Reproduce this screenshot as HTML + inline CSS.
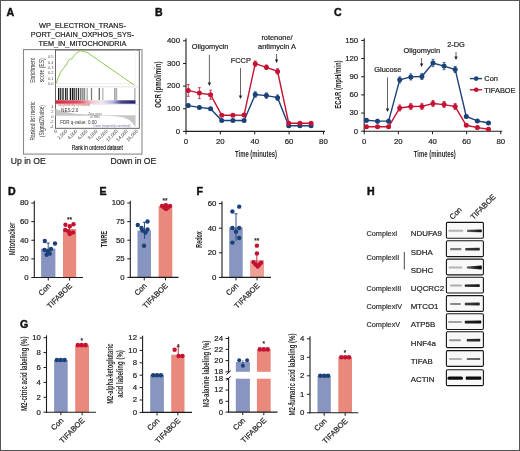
<!DOCTYPE html>
<html><head><meta charset="utf-8"><style>
html,body{margin:0;padding:0;background:#fff;width:520px;height:451px;overflow:hidden}
svg{display:block;will-change:transform}
</style></head><body>
<svg width="520" height="451" viewBox="0 0 520 451" style="font-family:'Liberation Sans', sans-serif">
<rect x="0.50" y="0.50" width="519.00" height="450.00" fill="none" stroke="#555" stroke-width="1"/>
<text x="6.50" y="16.00" font-size="10.6" font-weight="bold" fill="#111" stroke="#111" stroke-width="0.45">A</text>
<text x="155.00" y="16.00" font-size="10.6" font-weight="bold" fill="#111" stroke="#111" stroke-width="0.45">B</text>
<text x="334.00" y="16.00" font-size="10.6" font-weight="bold" fill="#111" stroke="#111" stroke-width="0.45">C</text>
<text x="8.00" y="195.30" font-size="10.6" font-weight="bold" fill="#111" stroke="#111" stroke-width="0.45">D</text>
<text x="99.50" y="195.30" font-size="10.6" font-weight="bold" fill="#111" stroke="#111" stroke-width="0.45">E</text>
<text x="196.50" y="195.30" font-size="10.6" font-weight="bold" fill="#111" stroke="#111" stroke-width="0.45">F</text>
<text x="20.00" y="328.30" font-size="10.6" font-weight="bold" fill="#111" stroke="#111" stroke-width="0.45">G</text>
<text x="367.00" y="195.30" font-size="10.6" font-weight="bold" fill="#111" stroke="#111" stroke-width="0.45">H</text>
<text x="82.50" y="27.80" font-size="7.3" text-anchor="middle" fill="#222" stroke="#222" stroke-width="0.2">WP_ELECTRON_TRANS-</text>
<text x="82.50" y="36.80" font-size="7.3" text-anchor="middle" fill="#222" stroke="#222" stroke-width="0.2">PORT_CHAIN_OXPHOS_SYS-</text>
<text x="82.50" y="45.80" font-size="7.3" text-anchor="middle" fill="#222" stroke="#222" stroke-width="0.2">TEM_IN_MITOCHONDRIA</text>
<rect x="23.50" y="49.60" width="118.50" height="104.50" fill="none" stroke="#8a8a8a" stroke-width="1.1"/>
<rect x="55.50" y="50.00" width="83.80" height="78.30" fill="none" stroke="#555" stroke-width="0.9"/>
<line x1="55.50" y1="86.80" x2="139.30" y2="86.80" stroke="#ccc" stroke-width="0.6"/>
<line x1="135.50" y1="50.00" x2="135.50" y2="128.30" stroke="#eee" stroke-width="0.5"/>
<line x1="55.50" y1="83.60" x2="135.50" y2="83.60" stroke="#ddd" stroke-width="0.5"/>
<path d="M55.5,83.6 L56.5,83 L57.5,79 L59,76 L60.5,72.5 L62,70 L63.5,68.5 L65,66 L66.5,65 L67.5,62 L69,60 L70.3,58.5 L71.5,59.3 L72.8,57.5 L74,55.5 L75.5,53.8 L77,52.8 L78.5,51.6 L80.5,50.8 L82.5,51 L85,51.8 L88,53 L134.5,85.3" fill="none" stroke="#86c043" stroke-width="0.9"/>
<text x="53.50" y="85.00" font-size="4" text-anchor="end" fill="#555">0.0</text>
<text x="53.50" y="79.65" font-size="4" text-anchor="end" fill="#555">0.1</text>
<text x="53.50" y="74.30" font-size="4" text-anchor="end" fill="#555">0.2</text>
<text x="53.50" y="68.95" font-size="4" text-anchor="end" fill="#555">0.3</text>
<text x="53.50" y="63.60" font-size="4" text-anchor="end" fill="#555">0.4</text>
<text x="53.50" y="58.25" font-size="4" text-anchor="end" fill="#555">0.5</text>
<text x="35.50" y="70.30" font-size="6.3" text-anchor="middle" fill="#333" transform="rotate(-90 35.5 70.3)" textLength="25" lengthAdjust="spacingAndGlyphs">Enrichment</text>
<text x="43.80" y="70.20" font-size="6.3" text-anchor="middle" fill="#333" transform="rotate(-90 43.8 70.2)" textLength="24" lengthAdjust="spacingAndGlyphs">score (ES)</text>
<line x1="58.70" y1="88.00" x2="58.70" y2="100.20" stroke="rgba(0,0,0,0.95)" stroke-width="1.3"/>
<line x1="60.70" y1="88.00" x2="60.70" y2="100.20" stroke="rgba(0,0,0,0.8)" stroke-width="1.3"/>
<line x1="63.00" y1="88.00" x2="63.00" y2="100.20" stroke="rgba(0,0,0,0.9)" stroke-width="1.3"/>
<line x1="65.60" y1="88.00" x2="65.60" y2="100.20" stroke="rgba(0,0,0,0.85)" stroke-width="1.3"/>
<line x1="67.30" y1="88.00" x2="67.30" y2="100.20" stroke="rgba(0,0,0,0.7)" stroke-width="1.3"/>
<line x1="70.40" y1="88.00" x2="70.40" y2="100.20" stroke="rgba(0,0,0,0.95)" stroke-width="1.3"/>
<line x1="72.50" y1="88.00" x2="72.50" y2="100.20" stroke="rgba(0,0,0,0.9)" stroke-width="1.3"/>
<line x1="74.20" y1="88.00" x2="74.20" y2="100.20" stroke="rgba(0,0,0,0.8)" stroke-width="1.3"/>
<line x1="76.30" y1="88.00" x2="76.30" y2="100.20" stroke="rgba(0,0,0,0.75)" stroke-width="1.3"/>
<line x1="78.50" y1="88.00" x2="78.50" y2="100.20" stroke="rgba(0,0,0,0.85)" stroke-width="1.3"/>
<line x1="80.80" y1="88.00" x2="80.80" y2="100.20" stroke="rgba(0,0,0,0.6)" stroke-width="1.3"/>
<line x1="82.90" y1="88.00" x2="82.90" y2="100.20" stroke="rgba(0,0,0,0.55)" stroke-width="1.3"/>
<line x1="84.60" y1="88.00" x2="84.60" y2="100.20" stroke="rgba(0,0,0,0.45)" stroke-width="1.3"/>
<line x1="87.20" y1="88.00" x2="87.20" y2="100.20" stroke="rgba(0,0,0,0.35)" stroke-width="1.3"/>
<line x1="91.50" y1="88.00" x2="91.50" y2="100.20" stroke="rgba(0,0,0,0.5)" stroke-width="1.3"/>
<line x1="99.30" y1="88.00" x2="99.30" y2="100.20" stroke="rgba(0,0,0,0.6)" stroke-width="1.3"/>
<line x1="102.80" y1="88.00" x2="102.80" y2="100.20" stroke="rgba(0,0,0,0.3)" stroke-width="1.3"/>
<line x1="114.90" y1="88.00" x2="114.90" y2="100.20" stroke="rgba(0,0,0,0.45)" stroke-width="1.3"/>
<line x1="116.60" y1="88.00" x2="116.60" y2="100.20" stroke="rgba(0,0,0,0.3)" stroke-width="1.3"/>
<line x1="134.80" y1="88.00" x2="134.80" y2="100.20" stroke="rgba(0,0,0,0.3)" stroke-width="1.3"/>
<defs><linearGradient id="gbar" x1="0" x2="1"><stop offset="0" stop-color="#d42a3c"/><stop offset="0.3" stop-color="#de5566"/><stop offset="0.45" stop-color="#f2c4cc"/><stop offset="0.58" stop-color="#ece8f2"/><stop offset="0.72" stop-color="#b4b0d8"/><stop offset="0.82" stop-color="#4a4890"/><stop offset="1" stop-color="#222070"/></linearGradient></defs>
<rect x="55.50" y="100.30" width="80.00" height="3.50" fill="url(#gbar)" stroke="none" stroke-width="1"/>
<line x1="55.50" y1="104.30" x2="139.30" y2="104.30" stroke="#ccc" stroke-width="0.5"/>
<path d="M55.5,115.6 L55.5,108.5 Q60,111.5 75,113.8 L100,115.3 L118,116.5 Q130,117.5 135.5,127 L135.5,115.6 Z" fill="#c6c6c6" stroke="none" stroke-width="1"/>
<line x1="55.50" y1="115.60" x2="135.50" y2="115.60" stroke="#bbb" stroke-width="0.4"/>
<text x="61.00" y="112.00" font-size="4.7" fill="#333">NES:2.0</text>
<text x="60.20" y="123.80" font-size="4.7" fill="#333" textLength="36.5" lengthAdjust="spacingAndGlyphs">FDR q-value: 0.00</text>
<text x="95.00" y="114.80" font-size="2.9" text-anchor="middle" fill="#666">Zero cross</text>
<text x="95.00" y="117.60" font-size="2.9" text-anchor="middle" fill="#666">at 7680</text>
<text x="58.00" y="105.60" font-size="2.9" fill="#d05050">Up (positively correlated)</text>
<text x="112.00" y="127.30" font-size="2.9" text-anchor="middle" fill="#7070b0">Down (negatively correlated)</text>
<text x="53.50" y="107.50" font-size="4" text-anchor="end" fill="#555">4</text>
<text x="53.50" y="112.50" font-size="4" text-anchor="end" fill="#555">2</text>
<text x="53.50" y="117.50" font-size="4" text-anchor="end" fill="#555">0</text>
<text x="53.50" y="122.50" font-size="4" text-anchor="end" fill="#555">-2</text>
<text x="53.50" y="127.50" font-size="4" text-anchor="end" fill="#555">-4</text>
<text x="35.30" y="121.00" font-size="6.3" text-anchor="middle" fill="#333" transform="rotate(-90 35.3 121)" textLength="39" lengthAdjust="spacingAndGlyphs">Ranked list metric</text>
<text x="44.00" y="121.00" font-size="6.3" text-anchor="middle" fill="#333" transform="rotate(-90 44 121)" textLength="32" lengthAdjust="spacingAndGlyphs">(Signal2Noise)</text>
<text x="57.50" y="131.50" font-size="4.7" text-anchor="end" fill="#333" transform="rotate(-45 57.5 131.5)">0</text>
<text x="67.60" y="131.50" font-size="4.7" text-anchor="end" fill="#333" transform="rotate(-45 67.6 131.5)">2,000</text>
<text x="77.70" y="131.50" font-size="4.7" text-anchor="end" fill="#333" transform="rotate(-45 77.7 131.5)">4,000</text>
<text x="87.80" y="131.50" font-size="4.7" text-anchor="end" fill="#333" transform="rotate(-45 87.8 131.5)">6,000</text>
<text x="97.90" y="131.50" font-size="4.7" text-anchor="end" fill="#333" transform="rotate(-45 97.9 131.5)">8,000</text>
<text x="108.00" y="131.50" font-size="4.7" text-anchor="end" fill="#333" transform="rotate(-45 108.0 131.5)">10,000</text>
<text x="118.10" y="131.50" font-size="4.7" text-anchor="end" fill="#333" transform="rotate(-45 118.1 131.5)">12,000</text>
<text x="128.20" y="131.50" font-size="4.7" text-anchor="end" fill="#333" transform="rotate(-45 128.2 131.5)">14,000</text>
<text x="138.30" y="131.50" font-size="4.7" text-anchor="end" fill="#333" transform="rotate(-45 138.3 131.5)">16,000</text>
<text x="97.30" y="149.80" font-size="6.8" text-anchor="middle" fill="#222" stroke="#222" stroke-width="0.2" textLength="51" lengthAdjust="spacingAndGlyphs">Rank in ordered dataset</text>
<text x="10.80" y="163.60" font-size="8.6" fill="#222" stroke="#222" stroke-width="0.2">Up in OE</text>
<text x="156.30" y="163.60" font-size="8.6" text-anchor="end" fill="#222" stroke="#222" stroke-width="0.2">Down in OE</text>
<line x1="186.00" y1="38.30" x2="186.00" y2="131.90" stroke="#1c1c1c" stroke-width="1.1"/>
<line x1="183.00" y1="131.40" x2="186.00" y2="131.40" stroke="#1c1c1c" stroke-width="1"/>
<text x="180.00" y="133.70" font-size="7.8" text-anchor="end" fill="#222" stroke="#222" stroke-width="0.2">0</text>
<line x1="183.00" y1="108.75" x2="186.00" y2="108.75" stroke="#1c1c1c" stroke-width="1"/>
<text x="180.00" y="111.05" font-size="7.8" text-anchor="end" fill="#222" stroke="#222" stroke-width="0.2">100</text>
<line x1="183.00" y1="86.10" x2="186.00" y2="86.10" stroke="#1c1c1c" stroke-width="1"/>
<text x="180.00" y="88.40" font-size="7.8" text-anchor="end" fill="#222" stroke="#222" stroke-width="0.2">200</text>
<line x1="183.00" y1="63.45" x2="186.00" y2="63.45" stroke="#1c1c1c" stroke-width="1"/>
<text x="180.00" y="65.75" font-size="7.8" text-anchor="end" fill="#222" stroke="#222" stroke-width="0.2">300</text>
<line x1="183.00" y1="40.80" x2="186.00" y2="40.80" stroke="#1c1c1c" stroke-width="1"/>
<text x="180.00" y="43.10" font-size="7.8" text-anchor="end" fill="#222" stroke="#222" stroke-width="0.2">400</text>
<line x1="185.50" y1="131.40" x2="324.94" y2="131.40" stroke="#1c1c1c" stroke-width="1.1"/>
<line x1="186.00" y1="131.40" x2="186.00" y2="134.40" stroke="#1c1c1c" stroke-width="1"/>
<text x="186.00" y="144.20" font-size="7.8" text-anchor="middle" fill="#222" stroke="#222" stroke-width="0.2">0</text>
<line x1="220.36" y1="131.40" x2="220.36" y2="134.40" stroke="#1c1c1c" stroke-width="1"/>
<text x="220.36" y="144.20" font-size="7.8" text-anchor="middle" fill="#222" stroke="#222" stroke-width="0.2">20</text>
<line x1="254.72" y1="131.40" x2="254.72" y2="134.40" stroke="#1c1c1c" stroke-width="1"/>
<text x="254.72" y="144.20" font-size="7.8" text-anchor="middle" fill="#222" stroke="#222" stroke-width="0.2">40</text>
<line x1="289.08" y1="131.40" x2="289.08" y2="134.40" stroke="#1c1c1c" stroke-width="1"/>
<text x="289.08" y="144.20" font-size="7.8" text-anchor="middle" fill="#222" stroke="#222" stroke-width="0.2">60</text>
<line x1="323.44" y1="131.40" x2="323.44" y2="134.40" stroke="#1c1c1c" stroke-width="1"/>
<text x="323.44" y="144.20" font-size="7.8" text-anchor="middle" fill="#222" stroke="#222" stroke-width="0.2">80</text>
<path d="M188.23,105.58 L199.40,107.39 L210.57,108.75 L221.73,120.53 L232.90,120.53 L244.07,120.53 L255.24,94.48 L266.40,95.61 L277.57,97.65 L288.74,125.74 L299.90,125.74 L311.07,125.74" fill="none" stroke="#1a4178" stroke-width="1.4"/>
<line x1="188.23" y1="104.22" x2="188.23" y2="106.94" stroke="#1a4178" stroke-width="0.8"/>
<line x1="186.83" y1="104.22" x2="189.63" y2="104.22" stroke="#1a4178" stroke-width="0.8"/>
<line x1="186.83" y1="106.94" x2="189.63" y2="106.94" stroke="#1a4178" stroke-width="0.8"/>
<circle cx="188.23" cy="105.58" r="2.5" fill="#1a4178"/>
<line x1="199.40" y1="106.26" x2="199.40" y2="108.52" stroke="#1a4178" stroke-width="0.8"/>
<line x1="198.00" y1="106.26" x2="200.80" y2="106.26" stroke="#1a4178" stroke-width="0.8"/>
<line x1="198.00" y1="108.52" x2="200.80" y2="108.52" stroke="#1a4178" stroke-width="0.8"/>
<circle cx="199.40" cy="107.39" r="2.5" fill="#1a4178"/>
<line x1="210.57" y1="107.62" x2="210.57" y2="109.88" stroke="#1a4178" stroke-width="0.8"/>
<line x1="209.17" y1="107.62" x2="211.97" y2="107.62" stroke="#1a4178" stroke-width="0.8"/>
<line x1="209.17" y1="109.88" x2="211.97" y2="109.88" stroke="#1a4178" stroke-width="0.8"/>
<circle cx="210.57" cy="108.75" r="2.5" fill="#1a4178"/>
<line x1="221.73" y1="119.85" x2="221.73" y2="121.21" stroke="#1a4178" stroke-width="0.8"/>
<line x1="220.33" y1="119.85" x2="223.13" y2="119.85" stroke="#1a4178" stroke-width="0.8"/>
<line x1="220.33" y1="121.21" x2="223.13" y2="121.21" stroke="#1a4178" stroke-width="0.8"/>
<circle cx="221.73" cy="120.53" r="2.5" fill="#1a4178"/>
<line x1="232.90" y1="119.85" x2="232.90" y2="121.21" stroke="#1a4178" stroke-width="0.8"/>
<line x1="231.50" y1="119.85" x2="234.30" y2="119.85" stroke="#1a4178" stroke-width="0.8"/>
<line x1="231.50" y1="121.21" x2="234.30" y2="121.21" stroke="#1a4178" stroke-width="0.8"/>
<circle cx="232.90" cy="120.53" r="2.5" fill="#1a4178"/>
<line x1="244.07" y1="119.85" x2="244.07" y2="121.21" stroke="#1a4178" stroke-width="0.8"/>
<line x1="242.67" y1="119.85" x2="245.47" y2="119.85" stroke="#1a4178" stroke-width="0.8"/>
<line x1="242.67" y1="121.21" x2="245.47" y2="121.21" stroke="#1a4178" stroke-width="0.8"/>
<circle cx="244.07" cy="120.53" r="2.5" fill="#1a4178"/>
<line x1="255.24" y1="91.76" x2="255.24" y2="97.20" stroke="#1a4178" stroke-width="0.8"/>
<line x1="253.84" y1="91.76" x2="256.64" y2="91.76" stroke="#1a4178" stroke-width="0.8"/>
<line x1="253.84" y1="97.20" x2="256.64" y2="97.20" stroke="#1a4178" stroke-width="0.8"/>
<circle cx="255.24" cy="94.48" r="2.5" fill="#1a4178"/>
<line x1="266.40" y1="92.89" x2="266.40" y2="98.33" stroke="#1a4178" stroke-width="0.8"/>
<line x1="265.00" y1="92.89" x2="267.80" y2="92.89" stroke="#1a4178" stroke-width="0.8"/>
<line x1="265.00" y1="98.33" x2="267.80" y2="98.33" stroke="#1a4178" stroke-width="0.8"/>
<circle cx="266.40" cy="95.61" r="2.5" fill="#1a4178"/>
<line x1="277.57" y1="94.93" x2="277.57" y2="100.37" stroke="#1a4178" stroke-width="0.8"/>
<line x1="276.17" y1="94.93" x2="278.97" y2="94.93" stroke="#1a4178" stroke-width="0.8"/>
<line x1="276.17" y1="100.37" x2="278.97" y2="100.37" stroke="#1a4178" stroke-width="0.8"/>
<circle cx="277.57" cy="97.65" r="2.5" fill="#1a4178"/>
<line x1="288.74" y1="125.28" x2="288.74" y2="126.19" stroke="#1a4178" stroke-width="0.8"/>
<line x1="287.34" y1="125.28" x2="290.14" y2="125.28" stroke="#1a4178" stroke-width="0.8"/>
<line x1="287.34" y1="126.19" x2="290.14" y2="126.19" stroke="#1a4178" stroke-width="0.8"/>
<circle cx="288.74" cy="125.74" r="2.5" fill="#1a4178"/>
<line x1="299.90" y1="125.28" x2="299.90" y2="126.19" stroke="#1a4178" stroke-width="0.8"/>
<line x1="298.50" y1="125.28" x2="301.30" y2="125.28" stroke="#1a4178" stroke-width="0.8"/>
<line x1="298.50" y1="126.19" x2="301.30" y2="126.19" stroke="#1a4178" stroke-width="0.8"/>
<circle cx="299.90" cy="125.74" r="2.5" fill="#1a4178"/>
<line x1="311.07" y1="125.28" x2="311.07" y2="126.19" stroke="#1a4178" stroke-width="0.8"/>
<line x1="309.67" y1="125.28" x2="312.47" y2="125.28" stroke="#1a4178" stroke-width="0.8"/>
<line x1="309.67" y1="126.19" x2="312.47" y2="126.19" stroke="#1a4178" stroke-width="0.8"/>
<circle cx="311.07" cy="125.74" r="2.5" fill="#1a4178"/>
<path d="M188.23,90.40 L199.40,93.12 L210.57,94.71 L221.73,115.32 L232.90,115.32 L244.07,115.09 L255.24,63.68 L266.40,67.30 L277.57,71.38 L288.74,123.25 L299.90,123.25 L311.07,123.25" fill="none" stroke="#c41232" stroke-width="1.4"/>
<line x1="188.23" y1="84.51" x2="188.23" y2="96.29" stroke="#c41232" stroke-width="0.8"/>
<line x1="186.83" y1="84.51" x2="189.63" y2="84.51" stroke="#c41232" stroke-width="0.8"/>
<line x1="186.83" y1="96.29" x2="189.63" y2="96.29" stroke="#c41232" stroke-width="0.8"/>
<circle cx="188.23" cy="90.40" r="2.5" fill="#c41232"/>
<line x1="199.40" y1="87.69" x2="199.40" y2="98.56" stroke="#c41232" stroke-width="0.8"/>
<line x1="198.00" y1="87.69" x2="200.80" y2="87.69" stroke="#c41232" stroke-width="0.8"/>
<line x1="198.00" y1="98.56" x2="200.80" y2="98.56" stroke="#c41232" stroke-width="0.8"/>
<circle cx="199.40" cy="93.12" r="2.5" fill="#c41232"/>
<line x1="210.57" y1="90.18" x2="210.57" y2="99.24" stroke="#c41232" stroke-width="0.8"/>
<line x1="209.17" y1="90.18" x2="211.97" y2="90.18" stroke="#c41232" stroke-width="0.8"/>
<line x1="209.17" y1="99.24" x2="211.97" y2="99.24" stroke="#c41232" stroke-width="0.8"/>
<circle cx="210.57" cy="94.71" r="2.5" fill="#c41232"/>
<line x1="221.73" y1="114.19" x2="221.73" y2="116.45" stroke="#c41232" stroke-width="0.8"/>
<line x1="220.33" y1="114.19" x2="223.13" y2="114.19" stroke="#c41232" stroke-width="0.8"/>
<line x1="220.33" y1="116.45" x2="223.13" y2="116.45" stroke="#c41232" stroke-width="0.8"/>
<circle cx="221.73" cy="115.32" r="2.5" fill="#c41232"/>
<line x1="232.90" y1="114.19" x2="232.90" y2="116.45" stroke="#c41232" stroke-width="0.8"/>
<line x1="231.50" y1="114.19" x2="234.30" y2="114.19" stroke="#c41232" stroke-width="0.8"/>
<line x1="231.50" y1="116.45" x2="234.30" y2="116.45" stroke="#c41232" stroke-width="0.8"/>
<circle cx="232.90" cy="115.32" r="2.5" fill="#c41232"/>
<line x1="244.07" y1="113.96" x2="244.07" y2="116.22" stroke="#c41232" stroke-width="0.8"/>
<line x1="242.67" y1="113.96" x2="245.47" y2="113.96" stroke="#c41232" stroke-width="0.8"/>
<line x1="242.67" y1="116.22" x2="245.47" y2="116.22" stroke="#c41232" stroke-width="0.8"/>
<circle cx="244.07" cy="115.09" r="2.5" fill="#c41232"/>
<line x1="255.24" y1="60.96" x2="255.24" y2="66.39" stroke="#c41232" stroke-width="0.8"/>
<line x1="253.84" y1="60.96" x2="256.64" y2="60.96" stroke="#c41232" stroke-width="0.8"/>
<line x1="253.84" y1="66.39" x2="256.64" y2="66.39" stroke="#c41232" stroke-width="0.8"/>
<circle cx="255.24" cy="63.68" r="2.5" fill="#c41232"/>
<line x1="266.40" y1="65.04" x2="266.40" y2="69.57" stroke="#c41232" stroke-width="0.8"/>
<line x1="265.00" y1="65.04" x2="267.80" y2="65.04" stroke="#c41232" stroke-width="0.8"/>
<line x1="265.00" y1="69.57" x2="267.80" y2="69.57" stroke="#c41232" stroke-width="0.8"/>
<circle cx="266.40" cy="67.30" r="2.5" fill="#c41232"/>
<line x1="277.57" y1="68.66" x2="277.57" y2="74.10" stroke="#c41232" stroke-width="0.8"/>
<line x1="276.17" y1="68.66" x2="278.97" y2="68.66" stroke="#c41232" stroke-width="0.8"/>
<line x1="276.17" y1="74.10" x2="278.97" y2="74.10" stroke="#c41232" stroke-width="0.8"/>
<circle cx="277.57" cy="71.38" r="2.5" fill="#c41232"/>
<line x1="288.74" y1="122.57" x2="288.74" y2="123.93" stroke="#c41232" stroke-width="0.8"/>
<line x1="287.34" y1="122.57" x2="290.14" y2="122.57" stroke="#c41232" stroke-width="0.8"/>
<line x1="287.34" y1="123.93" x2="290.14" y2="123.93" stroke="#c41232" stroke-width="0.8"/>
<circle cx="288.74" cy="123.25" r="2.5" fill="#c41232"/>
<line x1="299.90" y1="122.57" x2="299.90" y2="123.93" stroke="#c41232" stroke-width="0.8"/>
<line x1="298.50" y1="122.57" x2="301.30" y2="122.57" stroke="#c41232" stroke-width="0.8"/>
<line x1="298.50" y1="123.93" x2="301.30" y2="123.93" stroke="#c41232" stroke-width="0.8"/>
<circle cx="299.90" cy="123.25" r="2.5" fill="#c41232"/>
<line x1="311.07" y1="122.57" x2="311.07" y2="123.93" stroke="#c41232" stroke-width="0.8"/>
<line x1="309.67" y1="122.57" x2="312.47" y2="122.57" stroke="#c41232" stroke-width="0.8"/>
<line x1="309.67" y1="123.93" x2="312.47" y2="123.93" stroke="#c41232" stroke-width="0.8"/>
<circle cx="311.07" cy="123.25" r="2.5" fill="#c41232"/>
<text x="161.50" y="84.60" font-size="9.0" text-anchor="middle" font-weight="bold" fill="#2a2a2a" transform="rotate(-90 161.5 84.6)" textLength="46.2" lengthAdjust="spacingAndGlyphs">OCR (pmol/min)</text>
<text x="256.00" y="156.60" font-size="9.0" text-anchor="middle" font-weight="bold" fill="#2a2a2a" textLength="42" lengthAdjust="spacingAndGlyphs">Time (minutes)</text>
<text x="191.80" y="49.00" font-size="7.4" fill="#222" stroke="#222" stroke-width="0.2">Oligomycin</text>
<line x1="209.40" y1="54.80" x2="209.40" y2="83.00" stroke="#555" stroke-width="0.9"/>
<path d="M207.70000000000002,82.4 L211.1,82.4 L209.4,86 Z" fill="#222" stroke="none" stroke-width="1"/>
<text x="230.70" y="62.70" font-size="7.4" fill="#222" stroke="#222" stroke-width="0.2">FCCP</text>
<line x1="240.50" y1="68.00" x2="240.50" y2="96.00" stroke="#555" stroke-width="0.9"/>
<path d="M238.8,95.4 L242.2,95.4 L240.5,99 Z" fill="#222" stroke="none" stroke-width="1"/>
<text x="277.00" y="40.00" font-size="7.4" text-anchor="middle" fill="#222" stroke="#222" stroke-width="0.2">rotenone/</text>
<text x="277.00" y="49.40" font-size="7.4" text-anchor="middle" fill="#222" stroke="#222" stroke-width="0.2">antimycin A</text>
<line x1="276.60" y1="54.00" x2="276.60" y2="60.00" stroke="#555" stroke-width="0.9"/>
<path d="M274.90000000000003,59.4 L278.3,59.4 L276.6,63 Z" fill="#222" stroke="none" stroke-width="1"/>
<line x1="364.20" y1="38.30" x2="364.20" y2="131.70" stroke="#1c1c1c" stroke-width="1.1"/>
<line x1="361.20" y1="131.20" x2="364.20" y2="131.20" stroke="#1c1c1c" stroke-width="1"/>
<text x="358.20" y="133.50" font-size="7.8" text-anchor="end" fill="#222" stroke="#222" stroke-width="0.2">0</text>
<line x1="361.20" y1="113.04" x2="364.20" y2="113.04" stroke="#1c1c1c" stroke-width="1"/>
<text x="358.20" y="115.34" font-size="7.8" text-anchor="end" fill="#222" stroke="#222" stroke-width="0.2">30</text>
<line x1="361.20" y1="94.88" x2="364.20" y2="94.88" stroke="#1c1c1c" stroke-width="1"/>
<text x="358.20" y="97.18" font-size="7.8" text-anchor="end" fill="#222" stroke="#222" stroke-width="0.2">60</text>
<line x1="361.20" y1="76.72" x2="364.20" y2="76.72" stroke="#1c1c1c" stroke-width="1"/>
<text x="358.20" y="79.02" font-size="7.8" text-anchor="end" fill="#222" stroke="#222" stroke-width="0.2">90</text>
<line x1="361.20" y1="58.56" x2="364.20" y2="58.56" stroke="#1c1c1c" stroke-width="1"/>
<text x="358.20" y="60.86" font-size="7.8" text-anchor="end" fill="#222" stroke="#222" stroke-width="0.2">120</text>
<line x1="361.20" y1="40.41" x2="364.20" y2="40.41" stroke="#1c1c1c" stroke-width="1"/>
<text x="358.20" y="42.70" font-size="7.8" text-anchor="end" fill="#222" stroke="#222" stroke-width="0.2">150</text>
<line x1="363.70" y1="131.20" x2="502.26" y2="131.20" stroke="#1c1c1c" stroke-width="1.1"/>
<line x1="364.20" y1="131.20" x2="364.20" y2="134.20" stroke="#1c1c1c" stroke-width="1"/>
<text x="364.20" y="144.00" font-size="7.8" text-anchor="middle" fill="#222" stroke="#222" stroke-width="0.2">0</text>
<line x1="398.34" y1="131.20" x2="398.34" y2="134.20" stroke="#1c1c1c" stroke-width="1"/>
<text x="398.34" y="144.00" font-size="7.8" text-anchor="middle" fill="#222" stroke="#222" stroke-width="0.2">20</text>
<line x1="432.48" y1="131.20" x2="432.48" y2="134.20" stroke="#1c1c1c" stroke-width="1"/>
<text x="432.48" y="144.00" font-size="7.8" text-anchor="middle" fill="#222" stroke="#222" stroke-width="0.2">40</text>
<line x1="466.62" y1="131.20" x2="466.62" y2="134.20" stroke="#1c1c1c" stroke-width="1"/>
<text x="466.62" y="144.00" font-size="7.8" text-anchor="middle" fill="#222" stroke="#222" stroke-width="0.2">60</text>
<line x1="500.76" y1="131.20" x2="500.76" y2="134.20" stroke="#1c1c1c" stroke-width="1"/>
<text x="500.76" y="144.00" font-size="7.8" text-anchor="middle" fill="#222" stroke="#222" stroke-width="0.2">80</text>
<path d="M366.42,120.30 L377.51,121.15 L388.61,121.15 L399.71,79.87 L410.80,76.90 L421.90,76.48 L432.99,63.04 L444.09,66.07 L455.18,69.46 L466.28,116.49 L477.37,120.91 L488.47,122.97" fill="none" stroke="#1a4178" stroke-width="1.4"/>
<line x1="366.42" y1="118.49" x2="366.42" y2="122.12" stroke="#1a4178" stroke-width="0.8"/>
<line x1="365.02" y1="118.49" x2="367.82" y2="118.49" stroke="#1a4178" stroke-width="0.8"/>
<line x1="365.02" y1="122.12" x2="367.82" y2="122.12" stroke="#1a4178" stroke-width="0.8"/>
<circle cx="366.42" cy="120.30" r="2.5" fill="#1a4178"/>
<line x1="377.51" y1="119.34" x2="377.51" y2="122.97" stroke="#1a4178" stroke-width="0.8"/>
<line x1="376.11" y1="119.34" x2="378.91" y2="119.34" stroke="#1a4178" stroke-width="0.8"/>
<line x1="376.11" y1="122.97" x2="378.91" y2="122.97" stroke="#1a4178" stroke-width="0.8"/>
<circle cx="377.51" cy="121.15" r="2.5" fill="#1a4178"/>
<line x1="388.61" y1="119.34" x2="388.61" y2="122.97" stroke="#1a4178" stroke-width="0.8"/>
<line x1="387.21" y1="119.34" x2="390.01" y2="119.34" stroke="#1a4178" stroke-width="0.8"/>
<line x1="387.21" y1="122.97" x2="390.01" y2="122.97" stroke="#1a4178" stroke-width="0.8"/>
<circle cx="388.61" cy="121.15" r="2.5" fill="#1a4178"/>
<line x1="399.71" y1="76.84" x2="399.71" y2="82.90" stroke="#1a4178" stroke-width="0.8"/>
<line x1="398.31" y1="76.84" x2="401.11" y2="76.84" stroke="#1a4178" stroke-width="0.8"/>
<line x1="398.31" y1="82.90" x2="401.11" y2="82.90" stroke="#1a4178" stroke-width="0.8"/>
<circle cx="399.71" cy="79.87" r="2.5" fill="#1a4178"/>
<line x1="410.80" y1="73.88" x2="410.80" y2="79.93" stroke="#1a4178" stroke-width="0.8"/>
<line x1="409.40" y1="73.88" x2="412.20" y2="73.88" stroke="#1a4178" stroke-width="0.8"/>
<line x1="409.40" y1="79.93" x2="412.20" y2="79.93" stroke="#1a4178" stroke-width="0.8"/>
<circle cx="410.80" cy="76.90" r="2.5" fill="#1a4178"/>
<line x1="421.90" y1="73.45" x2="421.90" y2="79.51" stroke="#1a4178" stroke-width="0.8"/>
<line x1="420.50" y1="73.45" x2="423.30" y2="73.45" stroke="#1a4178" stroke-width="0.8"/>
<line x1="420.50" y1="79.51" x2="423.30" y2="79.51" stroke="#1a4178" stroke-width="0.8"/>
<circle cx="421.90" cy="76.48" r="2.5" fill="#1a4178"/>
<line x1="432.99" y1="59.41" x2="432.99" y2="66.68" stroke="#1a4178" stroke-width="0.8"/>
<line x1="431.59" y1="59.41" x2="434.39" y2="59.41" stroke="#1a4178" stroke-width="0.8"/>
<line x1="431.59" y1="66.68" x2="434.39" y2="66.68" stroke="#1a4178" stroke-width="0.8"/>
<circle cx="432.99" cy="63.04" r="2.5" fill="#1a4178"/>
<line x1="444.09" y1="62.44" x2="444.09" y2="69.70" stroke="#1a4178" stroke-width="0.8"/>
<line x1="442.69" y1="62.44" x2="445.49" y2="62.44" stroke="#1a4178" stroke-width="0.8"/>
<line x1="442.69" y1="69.70" x2="445.49" y2="69.70" stroke="#1a4178" stroke-width="0.8"/>
<circle cx="444.09" cy="66.07" r="2.5" fill="#1a4178"/>
<line x1="455.18" y1="66.43" x2="455.18" y2="72.49" stroke="#1a4178" stroke-width="0.8"/>
<line x1="453.78" y1="66.43" x2="456.58" y2="66.43" stroke="#1a4178" stroke-width="0.8"/>
<line x1="453.78" y1="72.49" x2="456.58" y2="72.49" stroke="#1a4178" stroke-width="0.8"/>
<circle cx="455.18" cy="69.46" r="2.5" fill="#1a4178"/>
<line x1="466.28" y1="115.28" x2="466.28" y2="117.70" stroke="#1a4178" stroke-width="0.8"/>
<line x1="464.88" y1="115.28" x2="467.68" y2="115.28" stroke="#1a4178" stroke-width="0.8"/>
<line x1="464.88" y1="117.70" x2="467.68" y2="117.70" stroke="#1a4178" stroke-width="0.8"/>
<circle cx="466.28" cy="116.49" r="2.5" fill="#1a4178"/>
<line x1="477.37" y1="119.70" x2="477.37" y2="122.12" stroke="#1a4178" stroke-width="0.8"/>
<line x1="475.97" y1="119.70" x2="478.77" y2="119.70" stroke="#1a4178" stroke-width="0.8"/>
<line x1="475.97" y1="122.12" x2="478.77" y2="122.12" stroke="#1a4178" stroke-width="0.8"/>
<circle cx="477.37" cy="120.91" r="2.5" fill="#1a4178"/>
<line x1="488.47" y1="121.76" x2="488.47" y2="124.18" stroke="#1a4178" stroke-width="0.8"/>
<line x1="487.07" y1="121.76" x2="489.87" y2="121.76" stroke="#1a4178" stroke-width="0.8"/>
<line x1="487.07" y1="124.18" x2="489.87" y2="124.18" stroke="#1a4178" stroke-width="0.8"/>
<circle cx="488.47" cy="122.97" r="2.5" fill="#1a4178"/>
<path d="M366.42,126.78 L377.51,126.78 L388.61,126.78 L399.71,107.96 L410.80,106.56 L421.90,106.38 L432.99,103.54 L444.09,104.57 L455.18,106.56 L466.28,125.27 L477.37,127.57 L488.47,129.20" fill="none" stroke="#c41232" stroke-width="1.4"/>
<line x1="366.42" y1="125.57" x2="366.42" y2="127.99" stroke="#c41232" stroke-width="0.8"/>
<line x1="365.02" y1="125.57" x2="367.82" y2="125.57" stroke="#c41232" stroke-width="0.8"/>
<line x1="365.02" y1="127.99" x2="367.82" y2="127.99" stroke="#c41232" stroke-width="0.8"/>
<circle cx="366.42" cy="126.78" r="2.5" fill="#c41232"/>
<line x1="377.51" y1="125.57" x2="377.51" y2="127.99" stroke="#c41232" stroke-width="0.8"/>
<line x1="376.11" y1="125.57" x2="378.91" y2="125.57" stroke="#c41232" stroke-width="0.8"/>
<line x1="376.11" y1="127.99" x2="378.91" y2="127.99" stroke="#c41232" stroke-width="0.8"/>
<circle cx="377.51" cy="126.78" r="2.5" fill="#c41232"/>
<line x1="388.61" y1="125.57" x2="388.61" y2="127.99" stroke="#c41232" stroke-width="0.8"/>
<line x1="387.21" y1="125.57" x2="390.01" y2="125.57" stroke="#c41232" stroke-width="0.8"/>
<line x1="387.21" y1="127.99" x2="390.01" y2="127.99" stroke="#c41232" stroke-width="0.8"/>
<circle cx="388.61" cy="126.78" r="2.5" fill="#c41232"/>
<line x1="399.71" y1="104.93" x2="399.71" y2="110.98" stroke="#c41232" stroke-width="0.8"/>
<line x1="398.31" y1="104.93" x2="401.11" y2="104.93" stroke="#c41232" stroke-width="0.8"/>
<line x1="398.31" y1="110.98" x2="401.11" y2="110.98" stroke="#c41232" stroke-width="0.8"/>
<circle cx="399.71" cy="107.96" r="2.5" fill="#c41232"/>
<line x1="410.80" y1="103.54" x2="410.80" y2="109.59" stroke="#c41232" stroke-width="0.8"/>
<line x1="409.40" y1="103.54" x2="412.20" y2="103.54" stroke="#c41232" stroke-width="0.8"/>
<line x1="409.40" y1="109.59" x2="412.20" y2="109.59" stroke="#c41232" stroke-width="0.8"/>
<circle cx="410.80" cy="106.56" r="2.5" fill="#c41232"/>
<line x1="421.90" y1="103.36" x2="421.90" y2="109.41" stroke="#c41232" stroke-width="0.8"/>
<line x1="420.50" y1="103.36" x2="423.30" y2="103.36" stroke="#c41232" stroke-width="0.8"/>
<line x1="420.50" y1="109.41" x2="423.30" y2="109.41" stroke="#c41232" stroke-width="0.8"/>
<circle cx="421.90" cy="106.38" r="2.5" fill="#c41232"/>
<line x1="432.99" y1="100.51" x2="432.99" y2="106.56" stroke="#c41232" stroke-width="0.8"/>
<line x1="431.59" y1="100.51" x2="434.39" y2="100.51" stroke="#c41232" stroke-width="0.8"/>
<line x1="431.59" y1="106.56" x2="434.39" y2="106.56" stroke="#c41232" stroke-width="0.8"/>
<circle cx="432.99" cy="103.54" r="2.5" fill="#c41232"/>
<line x1="444.09" y1="101.54" x2="444.09" y2="107.59" stroke="#c41232" stroke-width="0.8"/>
<line x1="442.69" y1="101.54" x2="445.49" y2="101.54" stroke="#c41232" stroke-width="0.8"/>
<line x1="442.69" y1="107.59" x2="445.49" y2="107.59" stroke="#c41232" stroke-width="0.8"/>
<circle cx="444.09" cy="104.57" r="2.5" fill="#c41232"/>
<line x1="455.18" y1="103.54" x2="455.18" y2="109.59" stroke="#c41232" stroke-width="0.8"/>
<line x1="453.78" y1="103.54" x2="456.58" y2="103.54" stroke="#c41232" stroke-width="0.8"/>
<line x1="453.78" y1="109.59" x2="456.58" y2="109.59" stroke="#c41232" stroke-width="0.8"/>
<circle cx="455.18" cy="106.56" r="2.5" fill="#c41232"/>
<line x1="466.28" y1="124.06" x2="466.28" y2="126.48" stroke="#c41232" stroke-width="0.8"/>
<line x1="464.88" y1="124.06" x2="467.68" y2="124.06" stroke="#c41232" stroke-width="0.8"/>
<line x1="464.88" y1="126.48" x2="467.68" y2="126.48" stroke="#c41232" stroke-width="0.8"/>
<circle cx="466.28" cy="125.27" r="2.5" fill="#c41232"/>
<line x1="477.37" y1="126.36" x2="477.37" y2="128.78" stroke="#c41232" stroke-width="0.8"/>
<line x1="475.97" y1="126.36" x2="478.77" y2="126.36" stroke="#c41232" stroke-width="0.8"/>
<line x1="475.97" y1="128.78" x2="478.77" y2="128.78" stroke="#c41232" stroke-width="0.8"/>
<circle cx="477.37" cy="127.57" r="2.5" fill="#c41232"/>
<line x1="488.47" y1="127.99" x2="488.47" y2="130.41" stroke="#c41232" stroke-width="0.8"/>
<line x1="487.07" y1="127.99" x2="489.87" y2="127.99" stroke="#c41232" stroke-width="0.8"/>
<line x1="487.07" y1="130.41" x2="489.87" y2="130.41" stroke="#c41232" stroke-width="0.8"/>
<circle cx="488.47" cy="129.20" r="2.5" fill="#c41232"/>
<text x="340.80" y="84.60" font-size="9.0" text-anchor="middle" font-weight="bold" fill="#2a2a2a" transform="rotate(-90 340.8 84.6)" textLength="48.4" lengthAdjust="spacingAndGlyphs">ECAR (mpH/min)</text>
<text x="434.80" y="156.60" font-size="9.0" text-anchor="middle" font-weight="bold" fill="#2a2a2a" textLength="42" lengthAdjust="spacingAndGlyphs">Time (minutes)</text>
<text x="387.80" y="72.00" font-size="7.4" text-anchor="middle" fill="#222" stroke="#222" stroke-width="0.2">Glucose</text>
<line x1="387.50" y1="77.40" x2="387.50" y2="109.00" stroke="#555" stroke-width="0.9"/>
<path d="M385.8,108.4 L389.2,108.4 L387.5,112 Z" fill="#222" stroke="none" stroke-width="1"/>
<text x="421.80" y="53.00" font-size="7.4" text-anchor="middle" fill="#222" stroke="#222" stroke-width="0.2">Oligomycin</text>
<line x1="421.60" y1="58.00" x2="421.60" y2="64.00" stroke="#555" stroke-width="0.9"/>
<path d="M419.90000000000003,63.4 L423.3,63.4 L421.6,67 Z" fill="#222" stroke="none" stroke-width="1"/>
<text x="456.00" y="46.50" font-size="7.4" text-anchor="middle" fill="#222" stroke="#222" stroke-width="0.2">2-DG</text>
<line x1="456.00" y1="52.00" x2="456.00" y2="57.00" stroke="#555" stroke-width="0.9"/>
<path d="M454.3,56.4 L457.7,56.4 L456,60 Z" fill="#222" stroke="none" stroke-width="1"/>
<line x1="470.00" y1="78.60" x2="482.00" y2="78.60" stroke="#1a4178" stroke-width="1.4"/>
<circle cx="476.20" cy="78.60" r="2.3" fill="#1a4178"/>
<line x1="470.00" y1="89.80" x2="482.00" y2="89.80" stroke="#c41232" stroke-width="1.4"/>
<circle cx="476.20" cy="89.80" r="2.3" fill="#c41232"/>
<text x="484.30" y="81.40" font-size="7.4" fill="#222" stroke="#222" stroke-width="0.2">Con</text>
<text x="484.30" y="92.60" font-size="7.4" fill="#222" stroke="#222" stroke-width="0.2">TIFABOE</text>
<rect x="41.10" y="248.64" width="14.30" height="28.86" fill="#8895c0" stroke="none" stroke-width="1"/>
<rect x="63.00" y="229.09" width="13.20" height="48.41" fill="#e9897b" stroke="none" stroke-width="1"/>
<line x1="34.30" y1="200.80" x2="34.30" y2="278.00" stroke="#1c1c1c" stroke-width="1.1"/>
<line x1="31.30" y1="277.50" x2="34.30" y2="277.50" stroke="#1c1c1c" stroke-width="1"/>
<text x="28.70" y="279.90" font-size="7.8" text-anchor="end" fill="#222" stroke="#222" stroke-width="0.2">0</text>
<line x1="31.30" y1="258.88" x2="34.30" y2="258.88" stroke="#1c1c1c" stroke-width="1"/>
<text x="28.70" y="261.28" font-size="7.8" text-anchor="end" fill="#222" stroke="#222" stroke-width="0.2">20</text>
<line x1="31.30" y1="240.26" x2="34.30" y2="240.26" stroke="#1c1c1c" stroke-width="1"/>
<text x="28.70" y="242.66" font-size="7.8" text-anchor="end" fill="#222" stroke="#222" stroke-width="0.2">40</text>
<line x1="31.30" y1="221.64" x2="34.30" y2="221.64" stroke="#1c1c1c" stroke-width="1"/>
<text x="28.70" y="224.04" font-size="7.8" text-anchor="end" fill="#222" stroke="#222" stroke-width="0.2">60</text>
<line x1="31.30" y1="203.02" x2="34.30" y2="203.02" stroke="#1c1c1c" stroke-width="1"/>
<text x="28.70" y="205.42" font-size="7.8" text-anchor="end" fill="#222" stroke="#222" stroke-width="0.2">80</text>
<line x1="33.80" y1="277.50" x2="83.00" y2="277.50" stroke="#1c1c1c" stroke-width="1.1"/>
<line x1="48.25" y1="277.50" x2="48.25" y2="280.50" stroke="#1c1c1c" stroke-width="1"/>
<line x1="69.60" y1="277.50" x2="69.60" y2="280.50" stroke="#1c1c1c" stroke-width="1"/>
<text x="51.25" y="286.30" font-size="7.6" text-anchor="end" fill="#222" stroke="#222" stroke-width="0.2" transform="rotate(-45 51.25 286.3)">Con</text>
<text x="72.60" y="286.30" font-size="7.6" text-anchor="end" fill="#222" stroke="#222" stroke-width="0.2" transform="rotate(-45 72.6 286.3)">TIFABOE</text>
<line x1="48.20" y1="243.05" x2="48.20" y2="254.22" stroke="#1a4178" stroke-width="0.9"/>
<line x1="46.60" y1="243.05" x2="49.80" y2="243.05" stroke="#1a4178" stroke-width="0.9"/>
<line x1="69.60" y1="225.36" x2="69.60" y2="232.81" stroke="#c41232" stroke-width="0.9"/>
<line x1="68.00" y1="225.36" x2="71.20" y2="225.36" stroke="#c41232" stroke-width="0.9"/>
<circle cx="44.80" cy="241.00" r="2.2" fill="#1a4178"/>
<circle cx="55.00" cy="243.52" r="2.2" fill="#1a4178"/>
<circle cx="44.50" cy="250.04" r="2.2" fill="#1a4178"/>
<circle cx="51.00" cy="249.01" r="2.2" fill="#1a4178"/>
<circle cx="46.60" cy="254.78" r="2.2" fill="#1a4178"/>
<circle cx="49.70" cy="253.67" r="2.2" fill="#1a4178"/>
<circle cx="48.10" cy="251.25" r="2.2" fill="#1a4178"/>
<circle cx="65.50" cy="224.81" r="2.2" fill="#c41232"/>
<circle cx="69.80" cy="226.20" r="2.2" fill="#c41232"/>
<circle cx="73.50" cy="224.25" r="2.2" fill="#c41232"/>
<circle cx="65.20" cy="230.02" r="2.2" fill="#c41232"/>
<circle cx="69.80" cy="234.02" r="2.2" fill="#c41232"/>
<circle cx="73.00" cy="232.53" r="2.2" fill="#c41232"/>
<circle cx="68.50" cy="231.51" r="2.2" fill="#c41232"/>
<text x="69.60" y="221.50" font-size="6.5" text-anchor="middle" fill="#222" stroke="#222" stroke-width="0.2">**</text>
<text x="15.20" y="238.90" font-size="9.0" text-anchor="middle" font-weight="bold" fill="#2a2a2a" transform="rotate(-90 15.2 238.9)" textLength="32.5" lengthAdjust="spacingAndGlyphs">Mitotracker</text>
<rect x="137.50" y="230.53" width="13.50" height="46.87" fill="#8895c0" stroke="none" stroke-width="1"/>
<rect x="158.60" y="205.98" width="13.70" height="71.42" fill="#e9897b" stroke="none" stroke-width="1"/>
<line x1="130.30" y1="200.80" x2="130.30" y2="277.90" stroke="#1c1c1c" stroke-width="1.1"/>
<line x1="127.30" y1="277.40" x2="130.30" y2="277.40" stroke="#1c1c1c" stroke-width="1"/>
<text x="124.70" y="279.80" font-size="7.8" text-anchor="end" fill="#222" stroke="#222" stroke-width="0.2">0</text>
<line x1="127.30" y1="258.80" x2="130.30" y2="258.80" stroke="#1c1c1c" stroke-width="1"/>
<text x="124.70" y="261.20" font-size="7.8" text-anchor="end" fill="#222" stroke="#222" stroke-width="0.2">25</text>
<line x1="127.30" y1="240.20" x2="130.30" y2="240.20" stroke="#1c1c1c" stroke-width="1"/>
<text x="124.70" y="242.60" font-size="7.8" text-anchor="end" fill="#222" stroke="#222" stroke-width="0.2">50</text>
<line x1="127.30" y1="221.60" x2="130.30" y2="221.60" stroke="#1c1c1c" stroke-width="1"/>
<text x="124.70" y="224.00" font-size="7.8" text-anchor="end" fill="#222" stroke="#222" stroke-width="0.2">75</text>
<line x1="127.30" y1="203.00" x2="130.30" y2="203.00" stroke="#1c1c1c" stroke-width="1"/>
<text x="124.70" y="205.40" font-size="7.8" text-anchor="end" fill="#222" stroke="#222" stroke-width="0.2">100</text>
<line x1="129.80" y1="277.40" x2="178.50" y2="277.40" stroke="#1c1c1c" stroke-width="1.1"/>
<line x1="144.25" y1="277.40" x2="144.25" y2="280.40" stroke="#1c1c1c" stroke-width="1"/>
<line x1="165.45" y1="277.40" x2="165.45" y2="280.40" stroke="#1c1c1c" stroke-width="1"/>
<text x="147.25" y="286.20" font-size="7.6" text-anchor="end" fill="#222" stroke="#222" stroke-width="0.2" transform="rotate(-45 147.25 286.2)">Con</text>
<text x="168.45" y="286.20" font-size="7.6" text-anchor="end" fill="#222" stroke="#222" stroke-width="0.2" transform="rotate(-45 168.45 286.2)">TIFABOE</text>
<line x1="144.50" y1="222.34" x2="144.50" y2="238.71" stroke="#1a4178" stroke-width="0.9"/>
<line x1="142.90" y1="222.34" x2="146.10" y2="222.34" stroke="#1a4178" stroke-width="0.9"/>
<line x1="165.00" y1="204.12" x2="165.00" y2="207.84" stroke="#c41232" stroke-width="0.9"/>
<line x1="163.40" y1="204.12" x2="166.60" y2="204.12" stroke="#c41232" stroke-width="0.9"/>
<circle cx="137.80" cy="225.02" r="2.2" fill="#1a4178"/>
<circle cx="147.50" cy="221.53" r="2.2" fill="#1a4178"/>
<circle cx="141.50" cy="228.00" r="2.2" fill="#1a4178"/>
<circle cx="147.50" cy="229.49" r="2.2" fill="#1a4178"/>
<circle cx="142.50" cy="230.53" r="2.2" fill="#1a4178"/>
<circle cx="145.50" cy="232.54" r="2.2" fill="#1a4178"/>
<circle cx="144.00" cy="245.71" r="2.2" fill="#1a4178"/>
<circle cx="162.00" cy="205.98" r="2.2" fill="#c41232"/>
<circle cx="166.00" cy="205.23" r="2.2" fill="#c41232"/>
<circle cx="170.00" cy="205.98" r="2.2" fill="#c41232"/>
<circle cx="164.00" cy="207.46" r="2.2" fill="#c41232"/>
<circle cx="168.00" cy="207.46" r="2.2" fill="#c41232"/>
<circle cx="166.00" cy="208.95" r="2.2" fill="#c41232"/>
<circle cx="165.00" cy="206.72" r="2.2" fill="#c41232"/>
<text x="165.00" y="203.00" font-size="6.5" text-anchor="middle" fill="#222" stroke="#222" stroke-width="0.2">**</text>
<text x="106.70" y="239.00" font-size="9.0" text-anchor="middle" font-weight="bold" fill="#2a2a2a" transform="rotate(-90 106.7 239)" textLength="16.5" lengthAdjust="spacingAndGlyphs">TMRE</text>
<rect x="229.20" y="227.34" width="13.50" height="50.06" fill="#8895c0" stroke="none" stroke-width="1"/>
<rect x="250.10" y="260.18" width="13.90" height="17.22" fill="#eda196" stroke="none" stroke-width="1"/>
<line x1="222.00" y1="201.30" x2="222.00" y2="277.90" stroke="#1c1c1c" stroke-width="1.1"/>
<line x1="219.00" y1="277.40" x2="222.00" y2="277.40" stroke="#1c1c1c" stroke-width="1"/>
<text x="216.40" y="279.80" font-size="7.8" text-anchor="end" fill="#222" stroke="#222" stroke-width="0.2">0</text>
<line x1="219.00" y1="252.80" x2="222.00" y2="252.80" stroke="#1c1c1c" stroke-width="1"/>
<text x="216.40" y="255.20" font-size="7.8" text-anchor="end" fill="#222" stroke="#222" stroke-width="0.2">20</text>
<line x1="219.00" y1="228.20" x2="222.00" y2="228.20" stroke="#1c1c1c" stroke-width="1"/>
<text x="216.40" y="230.60" font-size="7.8" text-anchor="end" fill="#222" stroke="#222" stroke-width="0.2">40</text>
<line x1="219.00" y1="203.60" x2="222.00" y2="203.60" stroke="#1c1c1c" stroke-width="1"/>
<text x="216.40" y="206.00" font-size="7.8" text-anchor="end" fill="#222" stroke="#222" stroke-width="0.2">60</text>
<line x1="221.50" y1="277.40" x2="271.00" y2="277.40" stroke="#1c1c1c" stroke-width="1.1"/>
<line x1="235.95" y1="277.40" x2="235.95" y2="280.40" stroke="#1c1c1c" stroke-width="1"/>
<line x1="257.05" y1="277.40" x2="257.05" y2="280.40" stroke="#1c1c1c" stroke-width="1"/>
<text x="238.95" y="286.20" font-size="7.6" text-anchor="end" fill="#222" stroke="#222" stroke-width="0.2" transform="rotate(-45 238.95 286.2)">Con</text>
<text x="260.05" y="286.20" font-size="7.6" text-anchor="end" fill="#222" stroke="#222" stroke-width="0.2" transform="rotate(-45 260.05 286.2)">TIFABOE</text>
<line x1="236.00" y1="213.81" x2="236.00" y2="240.87" stroke="#1a4178" stroke-width="0.9"/>
<line x1="234.40" y1="213.81" x2="237.60" y2="213.81" stroke="#1a4178" stroke-width="0.9"/>
<line x1="256.80" y1="252.80" x2="256.80" y2="267.56" stroke="#c41232" stroke-width="0.9"/>
<line x1="255.20" y1="252.80" x2="258.40" y2="252.80" stroke="#c41232" stroke-width="0.9"/>
<circle cx="232.40" cy="211.47" r="2.2" fill="#1a4178"/>
<circle cx="239.20" cy="206.67" r="2.2" fill="#1a4178"/>
<circle cx="232.40" cy="227.95" r="2.2" fill="#1a4178"/>
<circle cx="239.20" cy="227.95" r="2.2" fill="#1a4178"/>
<circle cx="236.00" cy="231.64" r="2.2" fill="#1a4178"/>
<circle cx="239.20" cy="238.04" r="2.2" fill="#1a4178"/>
<circle cx="232.40" cy="242.59" r="2.2" fill="#1a4178"/>
<circle cx="256.90" cy="245.67" r="2.2" fill="#c41232"/>
<circle cx="256.90" cy="253.54" r="2.2" fill="#c41232"/>
<circle cx="253.60" cy="262.27" r="2.2" fill="#c41232"/>
<circle cx="261.10" cy="262.64" r="2.2" fill="#c41232"/>
<circle cx="257.70" cy="266.58" r="2.2" fill="#c41232"/>
<circle cx="255.50" cy="264.48" r="2.2" fill="#c41232"/>
<circle cx="259.50" cy="264.48" r="2.2" fill="#c41232"/>
<text x="256.80" y="243.00" font-size="6.5" text-anchor="middle" fill="#222" stroke="#222" stroke-width="0.2">**</text>
<text x="202.30" y="239.40" font-size="9.0" text-anchor="middle" font-weight="bold" fill="#2a2a2a" transform="rotate(-90 202.3 239.4)" textLength="16.5" lengthAdjust="spacingAndGlyphs">Redox</text>
<rect x="54.10" y="360.05" width="13.60" height="52.15" fill="#8895c0" stroke="none" stroke-width="1"/>
<rect x="75.20" y="345.15" width="13.80" height="67.05" fill="#e9897b" stroke="none" stroke-width="1"/>
<line x1="46.50" y1="335.30" x2="46.50" y2="412.70" stroke="#1c1c1c" stroke-width="1.1"/>
<line x1="43.50" y1="412.20" x2="46.50" y2="412.20" stroke="#1c1c1c" stroke-width="1"/>
<text x="40.90" y="414.60" font-size="7.8" text-anchor="end" fill="#222" stroke="#222" stroke-width="0.2">0</text>
<line x1="43.50" y1="397.30" x2="46.50" y2="397.30" stroke="#1c1c1c" stroke-width="1"/>
<text x="40.90" y="399.70" font-size="7.8" text-anchor="end" fill="#222" stroke="#222" stroke-width="0.2">2</text>
<line x1="43.50" y1="382.40" x2="46.50" y2="382.40" stroke="#1c1c1c" stroke-width="1"/>
<text x="40.90" y="384.80" font-size="7.8" text-anchor="end" fill="#222" stroke="#222" stroke-width="0.2">4</text>
<line x1="43.50" y1="367.50" x2="46.50" y2="367.50" stroke="#1c1c1c" stroke-width="1"/>
<text x="40.90" y="369.90" font-size="7.8" text-anchor="end" fill="#222" stroke="#222" stroke-width="0.2">6</text>
<line x1="43.50" y1="352.60" x2="46.50" y2="352.60" stroke="#1c1c1c" stroke-width="1"/>
<text x="40.90" y="355.00" font-size="7.8" text-anchor="end" fill="#222" stroke="#222" stroke-width="0.2">8</text>
<line x1="43.50" y1="337.70" x2="46.50" y2="337.70" stroke="#1c1c1c" stroke-width="1"/>
<text x="40.90" y="340.10" font-size="7.8" text-anchor="end" fill="#222" stroke="#222" stroke-width="0.2">10</text>
<line x1="46.00" y1="412.20" x2="96.00" y2="412.20" stroke="#1c1c1c" stroke-width="1.1"/>
<line x1="60.90" y1="412.20" x2="60.90" y2="415.20" stroke="#1c1c1c" stroke-width="1"/>
<line x1="82.10" y1="412.20" x2="82.10" y2="415.20" stroke="#1c1c1c" stroke-width="1"/>
<text x="63.90" y="421.00" font-size="7.6" text-anchor="end" fill="#222" stroke="#222" stroke-width="0.2" transform="rotate(-45 63.900000000000006 421.0)">Con</text>
<text x="85.10" y="421.00" font-size="7.6" text-anchor="end" fill="#222" stroke="#222" stroke-width="0.2" transform="rotate(-45 85.1 421.0)">TIFABOE</text>
<circle cx="56.90" cy="360.05" r="2.3" fill="#1a4178"/>
<circle cx="60.75" cy="360.05" r="2.3" fill="#1a4178"/>
<circle cx="64.60" cy="360.05" r="2.3" fill="#1a4178"/>
<circle cx="77.90" cy="345.15" r="2.3" fill="#c41232"/>
<circle cx="81.75" cy="345.15" r="2.3" fill="#c41232"/>
<circle cx="85.60" cy="345.15" r="2.3" fill="#c41232"/>
<text x="81.75" y="342.80" font-size="6.5" text-anchor="middle" fill="#222" stroke="#222" stroke-width="0.2">*</text>
<text x="26.60" y="373.80" font-size="9.0" text-anchor="middle" font-weight="bold" fill="#2a2a2a" transform="rotate(-90 26.6 373.8)" textLength="74.5" lengthAdjust="spacingAndGlyphs">M2-citric acid labeling (%)</text>
<rect x="150.20" y="375.20" width="13.70" height="37.20" fill="#8895c0" stroke="none" stroke-width="1"/>
<rect x="171.20" y="354.74" width="13.30" height="57.66" fill="#e9897b" stroke="none" stroke-width="1"/>
<line x1="142.60" y1="335.80" x2="142.60" y2="412.90" stroke="#1c1c1c" stroke-width="1.1"/>
<line x1="139.60" y1="412.40" x2="142.60" y2="412.40" stroke="#1c1c1c" stroke-width="1"/>
<text x="137.00" y="414.80" font-size="7.8" text-anchor="end" fill="#222" stroke="#222" stroke-width="0.2">0</text>
<line x1="139.60" y1="400.00" x2="142.60" y2="400.00" stroke="#1c1c1c" stroke-width="1"/>
<text x="137.00" y="402.40" font-size="7.8" text-anchor="end" fill="#222" stroke="#222" stroke-width="0.2">2</text>
<line x1="139.60" y1="387.60" x2="142.60" y2="387.60" stroke="#1c1c1c" stroke-width="1"/>
<text x="137.00" y="390.00" font-size="7.8" text-anchor="end" fill="#222" stroke="#222" stroke-width="0.2">4</text>
<line x1="139.60" y1="375.20" x2="142.60" y2="375.20" stroke="#1c1c1c" stroke-width="1"/>
<text x="137.00" y="377.60" font-size="7.8" text-anchor="end" fill="#222" stroke="#222" stroke-width="0.2">6</text>
<line x1="139.60" y1="362.80" x2="142.60" y2="362.80" stroke="#1c1c1c" stroke-width="1"/>
<text x="137.00" y="365.20" font-size="7.8" text-anchor="end" fill="#222" stroke="#222" stroke-width="0.2">8</text>
<line x1="139.60" y1="350.40" x2="142.60" y2="350.40" stroke="#1c1c1c" stroke-width="1"/>
<text x="137.00" y="352.80" font-size="7.8" text-anchor="end" fill="#222" stroke="#222" stroke-width="0.2">10</text>
<line x1="139.60" y1="338.00" x2="142.60" y2="338.00" stroke="#1c1c1c" stroke-width="1"/>
<text x="137.00" y="340.40" font-size="7.8" text-anchor="end" fill="#222" stroke="#222" stroke-width="0.2">12</text>
<line x1="142.10" y1="412.40" x2="192.00" y2="412.40" stroke="#1c1c1c" stroke-width="1.1"/>
<line x1="157.05" y1="412.40" x2="157.05" y2="415.40" stroke="#1c1c1c" stroke-width="1"/>
<line x1="177.85" y1="412.40" x2="177.85" y2="415.40" stroke="#1c1c1c" stroke-width="1"/>
<text x="160.05" y="421.20" font-size="7.6" text-anchor="end" fill="#222" stroke="#222" stroke-width="0.2" transform="rotate(-45 160.05 421.2)">Con</text>
<text x="180.85" y="421.20" font-size="7.6" text-anchor="end" fill="#222" stroke="#222" stroke-width="0.2" transform="rotate(-45 180.85 421.2)">TIFABOE</text>
<circle cx="153.20" cy="375.20" r="2.3" fill="#1a4178"/>
<circle cx="157.05" cy="375.20" r="2.3" fill="#1a4178"/>
<circle cx="160.90" cy="375.20" r="2.3" fill="#1a4178"/>
<line x1="178.20" y1="354.12" x2="178.20" y2="346.68" stroke="#c41232" stroke-width="0.9"/>
<line x1="176.60" y1="346.68" x2="179.80" y2="346.68" stroke="#c41232" stroke-width="0.9"/>
<circle cx="174.60" cy="349.78" r="2.2" fill="#c41232"/>
<circle cx="178.60" cy="355.98" r="2.2" fill="#c41232"/>
<circle cx="182.40" cy="355.98" r="2.2" fill="#c41232"/>
<text x="178.20" y="349.00" font-size="6.5" text-anchor="middle" fill="#222" stroke="#222" stroke-width="0.2">*</text>
<text x="113.10" y="373.70" font-size="9.0" text-anchor="middle" font-weight="bold" fill="#2a2a2a" transform="rotate(-90 113.1 373.7)" textLength="60.3" lengthAdjust="spacingAndGlyphs">M2-alpha-ketoglutaric</text>
<text x="123.10" y="374.00" font-size="9.0" text-anchor="middle" font-weight="bold" fill="#2a2a2a" transform="rotate(-90 123.1 374)" textLength="47.5" lengthAdjust="spacingAndGlyphs">acid labeling (%)</text>
<rect x="235.80" y="362.00" width="14.10" height="9.80" fill="#8895c0" stroke="none" stroke-width="1"/>
<rect x="235.80" y="378.70" width="14.10" height="33.40" fill="#8895c0" stroke="none" stroke-width="1"/>
<rect x="256.90" y="349.40" width="13.80" height="22.40" fill="#e9897b" stroke="none" stroke-width="1"/>
<rect x="256.90" y="378.70" width="13.80" height="33.40" fill="#e9897b" stroke="none" stroke-width="1"/>
<line x1="228.60" y1="336.50" x2="228.60" y2="372.50" stroke="#1c1c1c" stroke-width="1.1"/>
<line x1="228.60" y1="378.20" x2="228.60" y2="412.60" stroke="#1c1c1c" stroke-width="1.1"/>
<line x1="225.60" y1="338.50" x2="228.60" y2="338.50" stroke="#1c1c1c" stroke-width="1"/>
<text x="223.00" y="340.90" font-size="7.8" text-anchor="end" fill="#222" stroke="#222" stroke-width="0.2">24</text>
<line x1="225.60" y1="349.40" x2="228.60" y2="349.40" stroke="#1c1c1c" stroke-width="1"/>
<text x="223.00" y="351.80" font-size="7.8" text-anchor="end" fill="#222" stroke="#222" stroke-width="0.2">22</text>
<line x1="225.60" y1="360.60" x2="228.60" y2="360.60" stroke="#1c1c1c" stroke-width="1"/>
<text x="223.00" y="363.00" font-size="7.8" text-anchor="end" fill="#222" stroke="#222" stroke-width="0.2">20</text>
<line x1="225.60" y1="371.90" x2="228.60" y2="371.90" stroke="#1c1c1c" stroke-width="1"/>
<text x="223.00" y="374.30" font-size="7.8" text-anchor="end" fill="#222" stroke="#222" stroke-width="0.2">18</text>
<line x1="225.60" y1="378.70" x2="228.60" y2="378.70" stroke="#1c1c1c" stroke-width="1"/>
<text x="223.00" y="381.10" font-size="7.8" text-anchor="end" fill="#222" stroke="#222" stroke-width="0.2">18</text>
<line x1="225.60" y1="390.00" x2="228.60" y2="390.00" stroke="#1c1c1c" stroke-width="1"/>
<text x="223.00" y="392.40" font-size="7.8" text-anchor="end" fill="#222" stroke="#222" stroke-width="0.2">12</text>
<line x1="225.60" y1="401.30" x2="228.60" y2="401.30" stroke="#1c1c1c" stroke-width="1"/>
<text x="223.00" y="403.70" font-size="7.8" text-anchor="end" fill="#222" stroke="#222" stroke-width="0.2">6</text>
<line x1="225.60" y1="412.10" x2="228.60" y2="412.10" stroke="#1c1c1c" stroke-width="1"/>
<text x="223.00" y="414.50" font-size="7.8" text-anchor="end" fill="#222" stroke="#222" stroke-width="0.2">0</text>
<line x1="226.40" y1="374.60" x2="230.80" y2="370.60" stroke="#1c1c1c" stroke-width="1"/>
<line x1="226.40" y1="380.40" x2="230.80" y2="376.40" stroke="#1c1c1c" stroke-width="1"/>
<line x1="228.10" y1="412.10" x2="277.50" y2="412.10" stroke="#1c1c1c" stroke-width="1.1"/>
<line x1="242.80" y1="412.10" x2="242.80" y2="415.10" stroke="#1c1c1c" stroke-width="1"/>
<line x1="263.80" y1="412.10" x2="263.80" y2="415.10" stroke="#1c1c1c" stroke-width="1"/>
<text x="245.80" y="420.90" font-size="7.6" text-anchor="end" fill="#222" stroke="#222" stroke-width="0.2" transform="rotate(-45 245.8 420.90000000000003)">Con</text>
<text x="266.80" y="420.90" font-size="7.6" text-anchor="end" fill="#222" stroke="#222" stroke-width="0.2" transform="rotate(-45 266.8 420.90000000000003)">TIFABOE</text>
<line x1="242.90" y1="360.20" x2="242.90" y2="366.00" stroke="#1a4178" stroke-width="0.8"/>
<circle cx="239.20" cy="360.20" r="2.0" fill="#1a4178"/>
<circle cx="247.10" cy="360.20" r="2.0" fill="#1a4178"/>
<circle cx="242.90" cy="365.80" r="2.0" fill="#1a4178"/>
<circle cx="259.90" cy="349.40" r="2.3" fill="#c41232"/>
<circle cx="263.80" cy="349.40" r="2.3" fill="#c41232"/>
<circle cx="267.70" cy="349.40" r="2.3" fill="#c41232"/>
<text x="263.80" y="345.50" font-size="6.5" text-anchor="middle" fill="#222" stroke="#222" stroke-width="0.2">*</text>
<text x="209.00" y="374.00" font-size="9.0" text-anchor="middle" font-weight="bold" fill="#2a2a2a" transform="rotate(-90 209 374)" textLength="66.5" lengthAdjust="spacingAndGlyphs">M3-alanine labeling (%)</text>
<rect x="317.50" y="375.80" width="13.30" height="37.00" fill="#8895c0" stroke="none" stroke-width="1"/>
<rect x="338.30" y="357.30" width="13.70" height="55.50" fill="#e9897b" stroke="none" stroke-width="1"/>
<line x1="310.00" y1="336.30" x2="310.00" y2="413.30" stroke="#1c1c1c" stroke-width="1.1"/>
<line x1="307.00" y1="412.80" x2="310.00" y2="412.80" stroke="#1c1c1c" stroke-width="1"/>
<text x="304.40" y="415.20" font-size="7.8" text-anchor="end" fill="#222" stroke="#222" stroke-width="0.2">0</text>
<line x1="307.00" y1="394.30" x2="310.00" y2="394.30" stroke="#1c1c1c" stroke-width="1"/>
<text x="304.40" y="396.70" font-size="7.8" text-anchor="end" fill="#222" stroke="#222" stroke-width="0.2">1</text>
<line x1="307.00" y1="375.80" x2="310.00" y2="375.80" stroke="#1c1c1c" stroke-width="1"/>
<text x="304.40" y="378.20" font-size="7.8" text-anchor="end" fill="#222" stroke="#222" stroke-width="0.2">2</text>
<line x1="307.00" y1="357.30" x2="310.00" y2="357.30" stroke="#1c1c1c" stroke-width="1"/>
<text x="304.40" y="359.70" font-size="7.8" text-anchor="end" fill="#222" stroke="#222" stroke-width="0.2">3</text>
<line x1="307.00" y1="338.80" x2="310.00" y2="338.80" stroke="#1c1c1c" stroke-width="1"/>
<text x="304.40" y="341.20" font-size="7.8" text-anchor="end" fill="#222" stroke="#222" stroke-width="0.2">4</text>
<line x1="309.50" y1="412.80" x2="358.30" y2="412.80" stroke="#1c1c1c" stroke-width="1.1"/>
<line x1="324.15" y1="412.80" x2="324.15" y2="415.80" stroke="#1c1c1c" stroke-width="1"/>
<line x1="345.15" y1="412.80" x2="345.15" y2="415.80" stroke="#1c1c1c" stroke-width="1"/>
<text x="327.15" y="421.60" font-size="7.6" text-anchor="end" fill="#222" stroke="#222" stroke-width="0.2" transform="rotate(-45 327.15 421.6)">Con</text>
<text x="348.15" y="421.60" font-size="7.6" text-anchor="end" fill="#222" stroke="#222" stroke-width="0.2" transform="rotate(-45 348.15 421.6)">TIFABOE</text>
<circle cx="320.30" cy="375.80" r="2.3" fill="#1a4178"/>
<circle cx="324.15" cy="375.80" r="2.3" fill="#1a4178"/>
<circle cx="328.00" cy="375.80" r="2.3" fill="#1a4178"/>
<circle cx="341.30" cy="357.30" r="2.3" fill="#c41232"/>
<circle cx="345.15" cy="357.30" r="2.3" fill="#c41232"/>
<circle cx="349.00" cy="357.30" r="2.3" fill="#c41232"/>
<text x="345.10" y="355.00" font-size="6.5" text-anchor="middle" fill="#222" stroke="#222" stroke-width="0.2">*</text>
<text x="295.00" y="374.50" font-size="9.0" text-anchor="middle" font-weight="bold" fill="#2a2a2a" transform="rotate(-90 295 374.5)" textLength="82" lengthAdjust="spacingAndGlyphs">M2-fumaric acid labeling (%)</text>
<defs><filter id="bl" x="-30%" y="-200%" width="160%" height="500%"><feGaussianBlur stdDeviation="0.75"/></filter></defs>
<rect x="446.40" y="222.40" width="37.00" height="15.80" fill="#f8f8f8" stroke="#151515" stroke-width="1.1" rx="1.2"/>
<rect x="448.2" y="229.80" width="15.10" height="2.0" rx="1.0" fill="rgba(0,0,0,0.28)" filter="url(#bl)"/>
<defs><linearGradient id="tg0" x1="0" x2="1"><stop offset="0" stop-color="#000" stop-opacity="0.6"/><stop offset="1" stop-color="#000" stop-opacity="0.95"/></linearGradient></defs>
<path d="M467.3,229.70 L481.5,229.40 Q482.3,230.80 481.5,232.20 L467.3,231.90 Q466.5,230.80 467.3,229.70 Z" fill="url(#tg0)" filter="url(#bl)"/>
<text x="410.80" y="236.40" font-size="7.9" fill="#222" stroke="#222" stroke-width="0.2">NDUFA9</text>
<rect x="446.40" y="240.80" width="37.00" height="15.80" fill="#f8f8f8" stroke="#151515" stroke-width="1.1" rx="1.2"/>
<rect x="450" y="248.10" width="11.50" height="2.2" rx="1.1" fill="rgba(0,0,0,0.5)" filter="url(#bl)"/>
<defs><linearGradient id="tg1" x1="0" x2="1"><stop offset="0" stop-color="#000" stop-opacity="0.75"/><stop offset="1" stop-color="#000" stop-opacity="0.85"/></linearGradient></defs>
<path d="M465.5,247.90 L479.5,247.80 Q480.3,249.20 479.5,250.60 L465.5,250.50 Q464.7,249.20 465.5,247.90 Z" fill="url(#tg1)" filter="url(#bl)"/>
<text x="410.80" y="254.60" font-size="7.9" fill="#222" stroke="#222" stroke-width="0.2">SDHA</text>
<rect x="446.40" y="259.10" width="37.00" height="15.80" fill="#f8f8f8" stroke="#151515" stroke-width="1.1" rx="1.2"/>
<rect x="448.5" y="266.50" width="14.00" height="2.0" rx="1.0" fill="rgba(0,0,0,0.28)" filter="url(#bl)"/>
<defs><linearGradient id="tg2" x1="0" x2="1"><stop offset="0" stop-color="#000" stop-opacity="0.6"/><stop offset="1" stop-color="#000" stop-opacity="1.0"/></linearGradient></defs>
<path d="M467,266.50 L481.5,265.60 Q482.3,267.50 481.5,269.40 L467,268.50 Q466.2,267.50 467,266.50 Z" fill="url(#tg2)" filter="url(#bl)"/>
<text x="410.80" y="272.80" font-size="7.9" fill="#222" stroke="#222" stroke-width="0.2">SDHC</text>
<rect x="446.40" y="277.20" width="37.00" height="15.80" fill="#f8f8f8" stroke="#151515" stroke-width="1.1" rx="1.2"/>
<rect x="450" y="284.60" width="12.00" height="2.0" rx="1.0" fill="rgba(0,0,0,0.3)" filter="url(#bl)"/>
<defs><linearGradient id="tg3" x1="0" x2="1"><stop offset="0" stop-color="#000" stop-opacity="0.85"/><stop offset="1" stop-color="#000" stop-opacity="0.9"/></linearGradient></defs>
<path d="M465,284.40 L479.5,284.30 Q480.3,285.60 479.5,286.90 L465,286.80 Q464.2,285.60 465,284.40 Z" fill="url(#tg3)" filter="url(#bl)"/>
<text x="410.80" y="291.00" font-size="7.9" fill="#222" stroke="#222" stroke-width="0.2">UQCRC2</text>
<rect x="446.40" y="295.60" width="37.00" height="15.80" fill="#f8f8f8" stroke="#151515" stroke-width="1.1" rx="1.2"/>
<rect x="450" y="303.00" width="11.00" height="2.0" rx="1.0" fill="rgba(0,0,0,0.45)" filter="url(#bl)"/>
<defs><linearGradient id="tg4" x1="0" x2="1"><stop offset="0" stop-color="#000" stop-opacity="0.75"/><stop offset="1" stop-color="#000" stop-opacity="0.85"/></linearGradient></defs>
<path d="M465,302.70 L479.5,302.60 Q480.3,304.00 479.5,305.40 L465,305.30 Q464.2,304.00 465,302.70 Z" fill="url(#tg4)" filter="url(#bl)"/>
<text x="410.80" y="309.20" font-size="7.9" fill="#222" stroke="#222" stroke-width="0.2">MTCO1</text>
<rect x="446.40" y="313.70" width="37.00" height="15.80" fill="#f8f8f8" stroke="#151515" stroke-width="1.1" rx="1.2"/>
<rect x="448" y="321.10" width="14.00" height="2.0" rx="1.0" fill="rgba(0,0,0,0.35)" filter="url(#bl)"/>
<defs><linearGradient id="tg5" x1="0" x2="1"><stop offset="0" stop-color="#000" stop-opacity="0.85"/><stop offset="1" stop-color="#000" stop-opacity="0.95"/></linearGradient></defs>
<path d="M465,320.80 L481,320.60 Q481.8,322.10 481,323.60 L465,323.40 Q464.2,322.10 465,320.80 Z" fill="url(#tg5)" filter="url(#bl)"/>
<text x="410.80" y="327.40" font-size="7.9" fill="#222" stroke="#222" stroke-width="0.2">ATP5B</text>
<rect x="446.40" y="331.80" width="37.00" height="15.80" fill="#f8f8f8" stroke="#151515" stroke-width="1.1" rx="1.2"/>
<rect x="449" y="339.20" width="12.00" height="2.0" rx="1.0" fill="rgba(0,0,0,0.4)" filter="url(#bl)"/>
<defs><linearGradient id="tg6" x1="0" x2="1"><stop offset="0" stop-color="#000" stop-opacity="0.8"/><stop offset="1" stop-color="#000" stop-opacity="0.85"/></linearGradient></defs>
<path d="M467,338.90 L480,338.80 Q480.8,340.20 480,341.60 L467,341.50 Q466.2,340.20 467,338.90 Z" fill="url(#tg6)" filter="url(#bl)"/>
<text x="410.80" y="345.60" font-size="7.9" fill="#222" stroke="#222" stroke-width="0.2">HNF4a</text>
<rect x="446.40" y="350.60" width="37.00" height="15.80" fill="#f8f8f8" stroke="#151515" stroke-width="1.1" rx="1.2"/>
<rect x="449" y="358.10" width="13.00" height="1.8" rx="0.9" fill="rgba(0,0,0,0.28)" filter="url(#bl)"/>
<defs><linearGradient id="tg7" x1="0" x2="1"><stop offset="0" stop-color="#000" stop-opacity="0.55"/><stop offset="1" stop-color="#000" stop-opacity="0.6"/></linearGradient></defs>
<path d="M467,357.90 L480,357.90 Q480.8,359.00 480,360.10 L467,360.10 Q466.2,359.00 467,357.90 Z" fill="url(#tg7)" filter="url(#bl)"/>
<text x="410.80" y="363.80" font-size="7.9" fill="#222" stroke="#222" stroke-width="0.2">TIFAB</text>
<rect x="446.40" y="369.80" width="37.00" height="15.80" fill="#f8f8f8" stroke="#151515" stroke-width="1.1" rx="1.2"/>
<rect x="447.5" y="376.60" width="15.50" height="3.2" rx="1.6" fill="rgba(0,0,0,0.95)" filter="url(#bl)"/>
<defs><linearGradient id="tg8" x1="0" x2="1"><stop offset="0" stop-color="#000" stop-opacity="0.95"/><stop offset="1" stop-color="#000" stop-opacity="0.95"/></linearGradient></defs>
<path d="M466,376.60 L481,376.60 Q481.8,378.20 481,379.80 L466,379.80 Q465.2,378.20 466,376.60 Z" fill="url(#tg8)" filter="url(#bl)"/>
<text x="410.80" y="382.00" font-size="7.9" fill="#222" stroke="#222" stroke-width="0.2">ACTIN</text>
<text x="366.50" y="235.80" font-size="7.3" fill="#333" stroke="#333" stroke-width="0.2">ComplexI</text>
<text x="366.50" y="259.50" font-size="7.3" fill="#333" stroke="#333" stroke-width="0.2">ComplexII</text>
<text x="366.50" y="290.80" font-size="7.3" fill="#333" stroke="#333" stroke-width="0.2">ComplexIII</text>
<text x="366.50" y="308.80" font-size="7.3" fill="#333" stroke="#333" stroke-width="0.2">ComplexIV</text>
<text x="366.50" y="327.20" font-size="7.3" fill="#333" stroke="#333" stroke-width="0.2">ComplexV</text>
<line x1="404.30" y1="252.00" x2="404.30" y2="269.50" stroke="#333" stroke-width="0.9"/>
<text x="452.50" y="220.00" font-size="7.6" fill="#222" stroke="#222" stroke-width="0.2" transform="rotate(-45 452.5 220)">Con</text>
<text x="473.50" y="220.00" font-size="7.6" fill="#222" stroke="#222" stroke-width="0.2" transform="rotate(-45 473.5 220)">TIFABOE</text>
</svg>
</body></html>
